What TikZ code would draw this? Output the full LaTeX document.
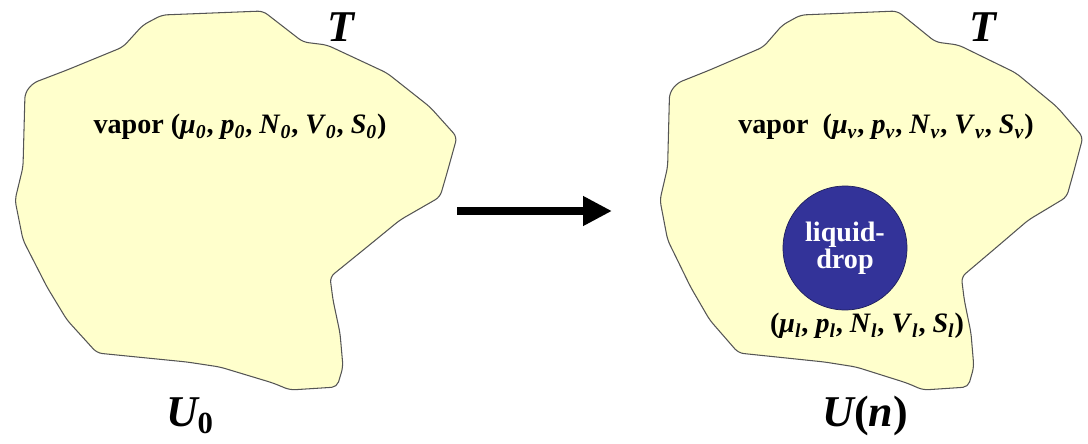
\documentclass[tikz,border=0pt]{standalone}
\usepackage{fontspec}
\setmainfont{Liberation Serif}
\usetikzlibrary{positioning,arrows.meta}
\definecolor{blobfill}{HTML}{FFFFCC}
\definecolor{blobline}{HTML}{555555}
\definecolor{dropblue}{HTML}{333399}
\newcommand{\sv}[2]{\textit{#1}\textsubscript{\textit{#2}}}
\newcommand{\blobpath}{(162,15) -- (263,11) -- (303,42) -- (327,45) -- (387,73)
  -- (430,107) -- (457,137) -- (447,173) -- (440,197) -- (400,220) -- (367,247)
  -- (330,277) -- (333,300) -- (340,333) -- (343,367) -- (337,387) -- (290,390)
  -- (273,383) -- (220,367) -- (187,362) -- (97,353) -- (67,320) -- (47,287)
  -- (23,240) -- (15,200) -- (23,167) -- (25,93) -- (33,83) -- (67,70)
  -- (123,47) -- (143,25) -- cycle}
\tikzset{
  blob/.style    ={fill=blobfill, draw=blobline, line width=0.6pt, rounded corners=3pt},
  vaplabel/.style={font=\fontsize{16}{18}\selectfont\bfseries, inner sep=0pt},
  bigvar/.style  ={font=\fontsize{25}{28}\selectfont\bfseries\itshape, inner sep=0pt},
  drop/.style    ={circle, fill=dropblue, draw=dropblue!60!black, minimum size=2.48cm,
                   inner sep=0pt, align=center, text=white,
                   font=\fontsize{16}{12.5}\selectfont\bfseries},
  goes/.style    ={-{Triangle[length=5.8mm, width=5.6mm]}, line width=5pt},
}
\begin{document}
\begin{tikzpicture}[x=0.02cm, y=-0.02cm]
  \useasboundingbox (0,0) rectangle (1088,443);
  % --- pure vapor ---
  \begin{scope}
    \path[blob] \blobpath;
    \node[vaplabel] (vapL) at (240,127) {vapor (\sv{μ}{0}, \sv{p}{0}, \sv{N}{0}, \sv{V}{0}, \sv{S}{0})};
    \node[bigvar] (TL) at (341,27) {T};
    \node[bigvar] (UL) at (190,416) {U\textsubscript{\upshape 0}};
  \end{scope}
  % --- vapor with a liquid drop ---
  \begin{scope}[shift={(645.6,0)}, xscale=0.957]
    \path[blob] \blobpath;
  \end{scope}
  \node[vaplabel] (vapR) at (886,127) {vapor\ \ (\sv{μ}{v}, \sv{p}{v}, \sv{N}{v}, \sv{V}{v}, \sv{S}{v})};
  \node[drop] (liq) at (845,248) {liquid-\\drop};
  \node[vaplabel, font=\fontsize{16}{18}\selectfont\bfseries] (liqL) at (867,326)
    {(\sv{μ}{l}, \sv{p}{l}, \sv{N}{l}, \sv{V}{l}, \sv{S}{l})};
  \node[bigvar] (TR) at (983,27) {T};
  \node[bigvar] (UR) at (865,416) {U{\upshape(}n{\upshape)}};
  % --- transition ---
  \coordinate (arrS) at (457,211);
  \coordinate (arrE) at (612,211);
  \draw[goes] (arrS) -- (arrE);
\end{tikzpicture}
\end{document}
